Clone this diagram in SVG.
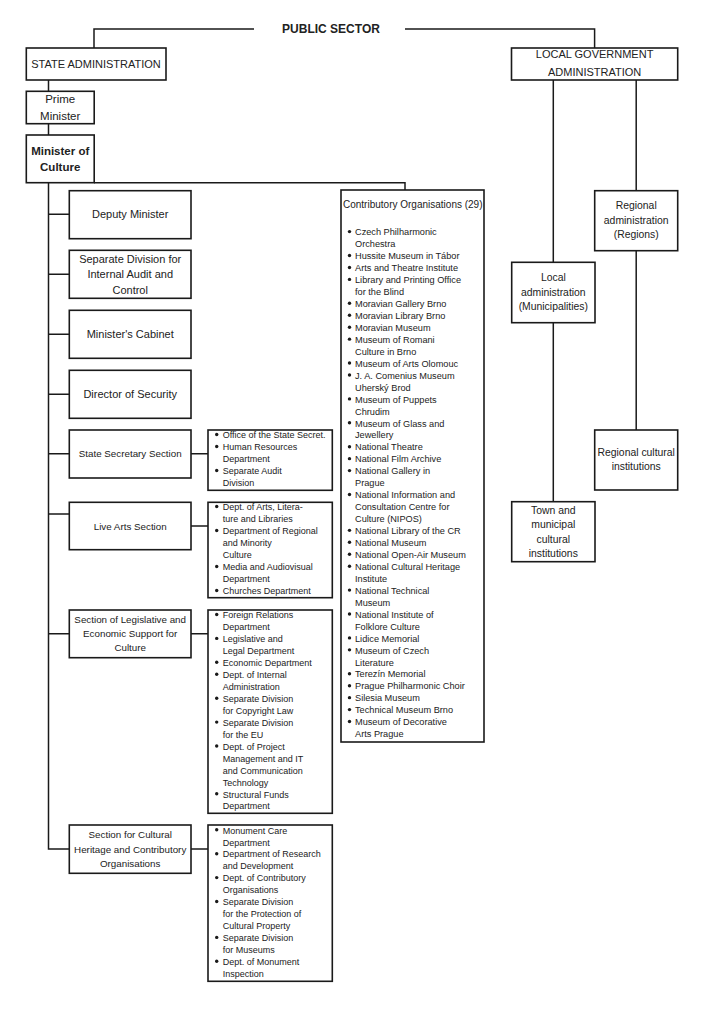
<svg xmlns="http://www.w3.org/2000/svg" width="724" height="1024" viewBox="0 0 724 1024">
<style>
.bx{fill:#fff;stroke:#1a1a1a;stroke-width:1.6}
.ln{fill:none;stroke:#1a1a1a;stroke-width:1.5}
text{font-family:"Liberation Sans",Arial,sans-serif;fill:#222}
.c{text-anchor:middle}
.t11{font-size:11px}
.sec{font-size:9.8px}
.li{font-size:9px}
.co{font-size:9.2px}
.rt{font-size:10.4px}
.b{font-weight:bold}
.dot{fill:#1a1a1a}
</style>
<rect width="724" height="1024" fill="#fff"/>
<g id="connectors">
<path class="ln" d="M94,48 V29 H254 M405,29 H594.6 V48"/>
<path class="ln" d="M48.5,80 V91.3 M48.5,123.7 V135 M94.2,182.7 H405 V190"/>
<path class="ln" d="M48.5,182.7 V849 H69.3"/>
<path class="ln" d="M48.5,214.3 H69.3 M48.5,274.3 H69.3 M48.5,334.3 H69.3 M48.5,394.3 H69.3 M48.5,453.7 H69.3 M48.5,514 H69.3 M48.5,633.7 H69.3"/>
<path class="ln" d="M191,453.7 H208 M191,526 H208 M191,633.7 H208 M191,849 H208"/>
<path class="ln" d="M553.3,80 V262.3 M553.3,322.7 V501.7 M636.2,80 V190.7 M636.2,250.7 V430"/>
</g>
<g id="public-sector"><text class="c b" x="331" y="33.3" font-size="12">PUBLIC SECTOR</text></g>
<g id="state-admin"><rect class="bx" x="26.3" y="48" width="139.7" height="32"/><text class="c t11" x="96" y="67.9">STATE ADMINISTRATION</text></g>
<g id="local-gov"><rect class="bx" x="511.5" y="48" width="166.2" height="32"/><text class="c t11" x="594.6" y="58.2">LOCAL GOVERNMENT</text><text class="c t11" x="594.6" y="75.6">ADMINISTRATION</text></g>
<g id="prime-minister"><rect class="bx" x="26.3" y="91.3" width="67.9" height="32.4"/><text class="c" font-size="11.5" x="60.2" y="103.1">Prime</text><text class="c" font-size="11.5" x="60.2" y="120.1">Minister</text></g>
<g id="minister-culture"><rect class="bx" x="26.3" y="135" width="67.9" height="47.7"/><text class="c b" font-size="11.5" x="60.2" y="154.8">Minister of</text><text class="c b" font-size="11.5" x="60.2" y="170.8">Culture</text></g>
<g id="deputy"><rect class="bx" x="69.3" y="190.7" width="121.7" height="48"/><text class="c t11" x="130.2" y="217.9">Deputy Minister</text></g>
<g id="audit"><rect class="bx" x="69.3" y="250.3" width="121.7" height="48"/><text class="c t11" x="130.2" y="262.6">Separate Division for</text><text class="c t11" x="130.2" y="278.2">Internal Audit and</text><text class="c t11" x="130.2" y="293.9">Control</text></g>
<g id="cabinet"><rect class="bx" x="69.3" y="310.3" width="121.7" height="48"/><text class="c t11" x="130.2" y="338.2">Minister's Cabinet</text></g>
<g id="security"><rect class="bx" x="69.3" y="370.3" width="121.7" height="48"/><text class="c t11" x="130.2" y="398.2">Director of Security</text></g>
<g id="state-secretary"><rect class="bx" x="69.3" y="430" width="121.7" height="48"/><text class="c sec" x="130.2" y="457.2">State Secretary Section</text></g>
<g id="live-arts"><rect class="bx" x="69.3" y="502.3" width="121.7" height="47.4"/><text class="c sec" x="130.2" y="529.5">Live Arts Section</text></g>
<g id="legislative"><rect class="bx" x="69.3" y="610" width="121.7" height="47.7"/><text class="c sec" x="130.2" y="622.8">Section of Legislative and</text><text class="c sec" x="130.2" y="636.8">Economic Support for</text><text class="c sec" x="130.2" y="651.2">Culture</text></g>
<g id="heritage"><rect class="bx" x="69.3" y="825" width="121.7" height="48.3"/><text class="c sec" x="130.2" y="838.2">Section for Cultural</text><text class="c sec" x="130.2" y="852.5">Heritage and Contributory</text><text class="c sec" x="130.2" y="866.8">Organisations</text></g>
<g id="list-state-secretary"><rect class="bx" x="208" y="430" width="124.3" height="60.3"/>
<circle class="dot" cx="216.7" cy="434.5" r="1.7"/><text class="li" x="222.7" y="438.2">Office of the State Secret.</text>
<circle class="dot" cx="216.7" cy="446.5" r="1.7"/><text class="li" x="222.7" y="450.2">Human Resources</text>
<text class="li" x="222.7" y="462.2">Department</text>
<circle class="dot" cx="216.7" cy="470.5" r="1.7"/><text class="li" x="222.7" y="474.2">Separate Audit</text>
<text class="li" x="222.7" y="486.2">Division</text>
</g>
<g id="list-live-arts"><rect class="bx" x="208" y="502.3" width="124.3" height="95.4"/>
<circle class="dot" cx="216.7" cy="506.5" r="1.7"/><text class="li" x="222.7" y="510.2">Dept. of Arts, Litera-</text>
<text class="li" x="222.7" y="522.2">ture and Libraries</text>
<circle class="dot" cx="216.7" cy="530.5" r="1.7"/><text class="li" x="222.7" y="534.2">Department of Regional</text>
<text class="li" x="222.7" y="546.2">and Minority</text>
<text class="li" x="222.7" y="558.2">Culture</text>
<circle class="dot" cx="216.7" cy="566.5" r="1.7"/><text class="li" x="222.7" y="570.2">Media and Audiovisual</text>
<text class="li" x="222.7" y="582.2">Department</text>
<circle class="dot" cx="216.7" cy="590.5" r="1.7"/><text class="li" x="222.7" y="594.2">Churches Department</text>
</g>
<g id="list-legislative"><rect class="bx" x="208" y="610" width="124.3" height="203.3"/>
<circle class="dot" cx="216.7" cy="614.5" r="1.7"/><text class="li" x="222.7" y="618.2">Foreign Relations</text>
<text class="li" x="222.7" y="630.2">Department</text>
<circle class="dot" cx="216.7" cy="638.4" r="1.7"/><text class="li" x="222.7" y="642.1">Legislative and</text>
<text class="li" x="222.7" y="654.1">Legal Department</text>
<circle class="dot" cx="216.7" cy="662.3" r="1.7"/><text class="li" x="222.7" y="666.0">Economic Department</text>
<circle class="dot" cx="216.7" cy="674.3" r="1.7"/><text class="li" x="222.7" y="678.0">Dept. of Internal</text>
<text class="li" x="222.7" y="689.9">Administration</text>
<circle class="dot" cx="216.7" cy="698.2" r="1.7"/><text class="li" x="222.7" y="701.9">Separate Division</text>
<text class="li" x="222.7" y="713.8">for Copyright Law</text>
<circle class="dot" cx="216.7" cy="722.1" r="1.7"/><text class="li" x="222.7" y="725.8">Separate Division</text>
<text class="li" x="222.7" y="737.7">for the EU</text>
<circle class="dot" cx="216.7" cy="746.0" r="1.7"/><text class="li" x="222.7" y="749.7">Dept. of Project</text>
<text class="li" x="222.7" y="761.6">Management and IT</text>
<text class="li" x="222.7" y="773.6">and Communication</text>
<text class="li" x="222.7" y="785.5">Technology</text>
<circle class="dot" cx="216.7" cy="793.8" r="1.7"/><text class="li" x="222.7" y="797.5">Structural Funds</text>
<text class="li" x="222.7" y="809.4">Department</text>
</g>
<g id="list-heritage"><rect class="bx" x="208" y="825" width="124.3" height="156.3"/>
<circle class="dot" cx="216.7" cy="829.8" r="1.7"/><text class="li" x="222.7" y="833.5">Monument Care</text>
<text class="li" x="222.7" y="845.5">Department</text>
<circle class="dot" cx="216.7" cy="853.7" r="1.7"/><text class="li" x="222.7" y="857.4">Department of Research</text>
<text class="li" x="222.7" y="869.4">and Development</text>
<circle class="dot" cx="216.7" cy="877.6" r="1.7"/><text class="li" x="222.7" y="881.3">Dept. of Contributory</text>
<text class="li" x="222.7" y="893.3">Organisations</text>
<circle class="dot" cx="216.7" cy="901.5" r="1.7"/><text class="li" x="222.7" y="905.2">Separate Division</text>
<text class="li" x="222.7" y="917.2">for the Protection of</text>
<text class="li" x="222.7" y="929.1">Cultural Property</text>
<circle class="dot" cx="216.7" cy="937.4" r="1.7"/><text class="li" x="222.7" y="941.1">Separate Division</text>
<text class="li" x="222.7" y="953.0">for Museums</text>
<circle class="dot" cx="216.7" cy="961.3" r="1.7"/><text class="li" x="222.7" y="965.0">Dept. of Monument</text>
<text class="li" x="222.7" y="976.9">Inspection</text>
</g>
<g id="contributory"><rect class="bx" x="341" y="190" width="143" height="552"/>
<text font-size="10" x="343" y="207.6">Contributory Organisations (29)</text>
<circle class="dot" cx="349.5" cy="231.6" r="1.7"/><text class="co" x="355" y="235.3">Czech Philharmonic</text>
<text class="co" x="355" y="247.25">Orchestra</text>
<circle class="dot" cx="349.5" cy="255.5" r="1.7"/><text class="co" x="355" y="259.2">Hussite Museum in Tábor</text>
<circle class="dot" cx="349.5" cy="267.45" r="1.7"/><text class="co" x="355" y="271.15">Arts and Theatre Institute</text>
<circle class="dot" cx="349.5" cy="279.4" r="1.7"/><text class="co" x="355" y="283.1">Library and Printing Office</text>
<text class="co" x="355" y="295.05">for the Blind</text>
<circle class="dot" cx="349.5" cy="303.3" r="1.7"/><text class="co" x="355" y="307.0">Moravian Gallery Brno</text>
<circle class="dot" cx="349.5" cy="315.25" r="1.7"/><text class="co" x="355" y="318.95">Moravian Library Brno</text>
<circle class="dot" cx="349.5" cy="327.2" r="1.7"/><text class="co" x="355" y="330.9">Moravian Museum</text>
<circle class="dot" cx="349.5" cy="339.15" r="1.7"/><text class="co" x="355" y="342.85">Museum of Romani</text>
<text class="co" x="355" y="354.8">Culture in Brno</text>
<circle class="dot" cx="349.5" cy="363.05" r="1.7"/><text class="co" x="355" y="366.75">Museum of Arts Olomouc</text>
<circle class="dot" cx="349.5" cy="375.0" r="1.7"/><text class="co" x="355" y="378.7">J. A. Comenius Museum</text>
<text class="co" x="355" y="390.65">Uherský Brod</text>
<circle class="dot" cx="349.5" cy="398.9" r="1.7"/><text class="co" x="355" y="402.6">Museum of Puppets</text>
<text class="co" x="355" y="414.55">Chrudim</text>
<circle class="dot" cx="349.5" cy="422.8" r="1.7"/><text class="co" x="355" y="426.5">Museum of Glass and</text>
<text class="co" x="355" y="438.45">Jewellery</text>
<circle class="dot" cx="349.5" cy="446.7" r="1.7"/><text class="co" x="355" y="450.4">National Theatre</text>
<circle class="dot" cx="349.5" cy="458.65" r="1.7"/><text class="co" x="355" y="462.35">National Film Archive</text>
<circle class="dot" cx="349.5" cy="470.6" r="1.7"/><text class="co" x="355" y="474.3">National Gallery in</text>
<text class="co" x="355" y="486.25">Prague</text>
<circle class="dot" cx="349.5" cy="494.5" r="1.7"/><text class="co" x="355" y="498.2">National Information and</text>
<text class="co" x="355" y="510.15">Consultation Centre for</text>
<text class="co" x="355" y="522.1">Culture (NIPOS)</text>
<circle class="dot" cx="349.5" cy="530.35" r="1.7"/><text class="co" x="355" y="534.05">National Library of the CR</text>
<circle class="dot" cx="349.5" cy="542.3" r="1.7"/><text class="co" x="355" y="546.0">National Museum</text>
<circle class="dot" cx="349.5" cy="554.25" r="1.7"/><text class="co" x="355" y="557.95">National Open-Air Museum</text>
<circle class="dot" cx="349.5" cy="566.2" r="1.7"/><text class="co" x="355" y="569.9">National Cultural Heritage</text>
<text class="co" x="355" y="581.85">Institute</text>
<circle class="dot" cx="349.5" cy="590.1" r="1.7"/><text class="co" x="355" y="593.8">National Technical</text>
<text class="co" x="355" y="605.75">Museum</text>
<circle class="dot" cx="349.5" cy="614.0" r="1.7"/><text class="co" x="355" y="617.7">National Institute of</text>
<text class="co" x="355" y="629.65">Folklore Culture</text>
<circle class="dot" cx="349.5" cy="637.9" r="1.7"/><text class="co" x="355" y="641.6">Lidice Memorial</text>
<circle class="dot" cx="349.5" cy="649.85" r="1.7"/><text class="co" x="355" y="653.55">Museum of Czech</text>
<text class="co" x="355" y="665.5">Literature</text>
<circle class="dot" cx="349.5" cy="673.75" r="1.7"/><text class="co" x="355" y="677.45">Terezín Memorial</text>
<circle class="dot" cx="349.5" cy="685.7" r="1.7"/><text class="co" x="355" y="689.4">Prague Philharmonic Choir</text>
<circle class="dot" cx="349.5" cy="697.65" r="1.7"/><text class="co" x="355" y="701.35">Silesia Museum</text>
<circle class="dot" cx="349.5" cy="709.6" r="1.7"/><text class="co" x="355" y="713.3">Technical Museum Brno</text>
<circle class="dot" cx="349.5" cy="721.55" r="1.7"/><text class="co" x="355" y="725.25">Museum of Decorative</text>
<text class="co" x="355" y="737.2">Arts Prague</text>
</g>
<g id="regional-admin"><rect class="bx" x="594.7" y="190.7" width="83" height="60"/><text class="c rt" x="636.2" y="209.4">Regional</text><text class="c rt" x="636.2" y="224">administration</text><text class="c rt" x="636.2" y="238.4">(Regions)</text></g>
<g id="local-admin"><rect class="bx" x="511.7" y="262.3" width="83.3" height="60.4"/><text class="c rt" x="553.3" y="281.4">Local</text><text class="c rt" x="553.3" y="295.7">administration</text><text class="c rt" x="553.3" y="310.4">(Municipalities)</text></g>
<g id="regional-cultural"><rect class="bx" x="594.7" y="430" width="83" height="60"/><text class="c rt" x="636.2" y="456.4">Regional cultural</text><text class="c rt" x="636.2" y="470.4">institutions</text></g>
<g id="town-cultural"><rect class="bx" x="511.7" y="501.7" width="83.3" height="60"/><text class="c rt" x="553.3" y="513.7">Town and</text><text class="c rt" x="553.3" y="528.4">municipal</text><text class="c rt" x="553.3" y="542.7">cultural</text><text class="c rt" x="553.3" y="556.7">institutions</text></g>
</svg>
